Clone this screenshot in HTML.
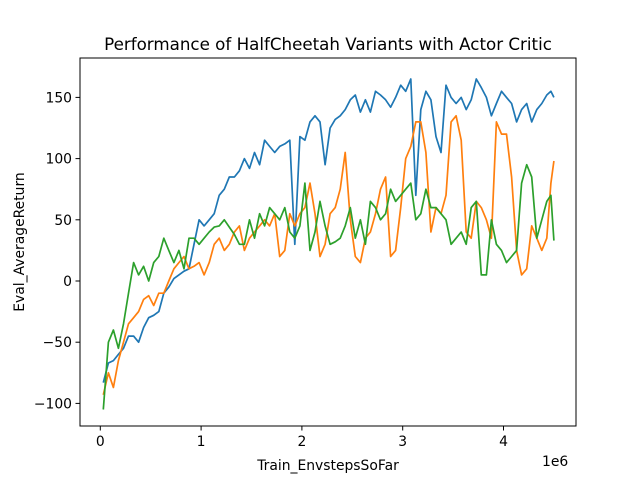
<!DOCTYPE html>
<html><head><meta charset="utf-8"><style>
body{margin:0;background:#fff;}
svg text{font-family:"DejaVu Sans","Liberation Sans",sans-serif;fill:#000;}
</style></head><body>
<svg id="chart" width="640" height="480" viewBox="0 0 640 480">
<rect width="640" height="480" fill="#fff"/>
<text x="328" y="50" font-size="16.7" text-anchor="middle">Performance of HalfCheetah Variants with Actor Critic</text>
<g id="series"></g>
<rect x="80" y="58" width="496" height="368" fill="none" stroke="#000" stroke-width="1"/>
<g id="axes"></g>
<text x="328" y="470" font-size="13.9" text-anchor="middle">Train_EnvstepsSoFar</text>
<text x="542" y="466" font-size="13.9">1e6</text>
<text transform="translate(24,242) rotate(-90)" font-size="13.9" text-anchor="middle">Eval_AverageReturn</text>
</svg>
<script>
const xTicks=[0,1,2,3,4];
const xTickLabels=["0","1","2","3","4"];
const yTicks=[-100,-50,0,50,100,150];
const yTickLabels=["−100","−50","0","50","100","150"];
const steps=[0.03,0.08,0.13,0.18,0.23,0.28,0.33,0.38,0.43,0.48,0.53,0.58,0.63,0.68,0.73,0.78,0.83,0.88,0.93,0.98,1.03,1.08,1.13,1.18,1.23,1.28,1.33,1.38,1.43,1.48,1.53,1.58,1.63,1.68,1.73,1.78,1.83,1.88,1.93,1.98,2.03,2.08,2.13,2.18,2.23,2.28,2.33,2.38,2.43,2.48,2.53,2.58,2.63,2.68,2.73,2.78,2.83,2.88,2.93,2.98,3.03,3.08,3.13,3.18,3.23,3.28,3.33,3.38,3.43,3.48,3.53,3.58,3.63,3.68,3.73,3.78,3.83,3.88,3.93,3.98,4.03,4.08,4.13,4.18,4.23,4.28,4.33,4.38,4.43,4.47,4.5];
const blueVals=[-83,-67,-65,-60,-55,-45,-45,-50,-38,-30,-28,-25,-10,-5,2,5,8,10,30,50,45,50,55,70,75,85,85,90,100,92,105,95,115,110,105,110,112,115,30,118,115,130,135,130,95,125,132,135,140,148,152,138,148,138,155,152,148,142,150,160,155,165,70,140,155,148,118,105,160,150,145,150,140,148,165,158,150,135,145,155,150,145,130,140,145,130,140,145,152,155,150];
const orangeVals=[-93,-75,-87,-65,-50,-35,-30,-25,-15,-12,-20,-10,-10,0,10,15,20,10,12,15,5,15,30,35,25,30,40,45,25,35,40,45,50,45,55,20,25,55,45,55,60,80,55,20,30,55,60,75,105,50,20,15,35,40,55,75,85,20,25,60,100,110,130,130,105,40,60,55,70,130,135,115,40,35,65,60,50,35,130,120,120,85,25,5,10,45,35,25,35,80,98];
const greenVals=[-105,-50,-40,-55,-35,-10,15,5,12,0,15,20,35,25,15,25,10,35,35,30,35,40,44,45,50,44,38,30,30,50,35,55,45,60,55,50,60,40,35,45,80,25,40,65,45,30,32,35,45,60,35,50,30,65,60,50,55,75,65,70,75,80,50,55,75,60,60,55,50,30,35,40,30,60,65,5,5,50,30,25,15,20,25,80,95,85,35,50,65,70,33];
const X=v=>100.3+v*100.8;
const Y=v=>281-v*1.224;
const NS="http://www.w3.org/2000/svg";
const axes=document.getElementById('axes');
xTicks.forEach((t,i)=>{
  const l=document.createElementNS(NS,'line');
  l.setAttribute('x1',X(t));l.setAttribute('x2',X(t));l.setAttribute('y1',426);l.setAttribute('y2',430.5);l.setAttribute('stroke','#000');
  
  
  axes.appendChild(l);
  const tx=document.createElementNS(NS,'text');
  tx.setAttribute('x',X(t));tx.setAttribute('y',446);tx.setAttribute('font-size','13.9');tx.setAttribute('text-anchor','middle');
  tx.textContent=xTickLabels[i];
  
  
  axes.appendChild(tx);
});
yTicks.forEach((t,i)=>{
  const l=document.createElementNS(NS,'line');
  l.setAttribute('x1',75.5);l.setAttribute('x2',80);l.setAttribute('y1',Y(t));l.setAttribute('y2',Y(t));l.setAttribute('stroke','#000');
  
  
  axes.appendChild(l);
  const tx=document.createElementNS(NS,'text');
  tx.setAttribute('x',72);tx.setAttribute('y',Y(t)+5);tx.setAttribute('font-size','13.9');tx.setAttribute('text-anchor','end');
  tx.textContent=yTickLabels[i];
  
  
  axes.appendChild(tx);
});
const sg=document.getElementById('series');
[[blueVals,'#1f77b4','blue-series-line'],[orangeVals,'#ff7f0e','orange-series-line'],[greenVals,'#2ca02c','green-series-line']].forEach(([vals,c,n])=>{
  const p=document.createElementNS(NS,'polyline');
  p.setAttribute('points',vals.map((v,i)=>X(steps[i]).toFixed(1)+','+Y(v).toFixed(1)).join(' '));
  p.setAttribute('fill','none');p.setAttribute('stroke',c);p.setAttribute('stroke-width','1.7');p.setAttribute('stroke-linejoin','round');
  
  
  sg.appendChild(p);
});
</script>
</body></html>
